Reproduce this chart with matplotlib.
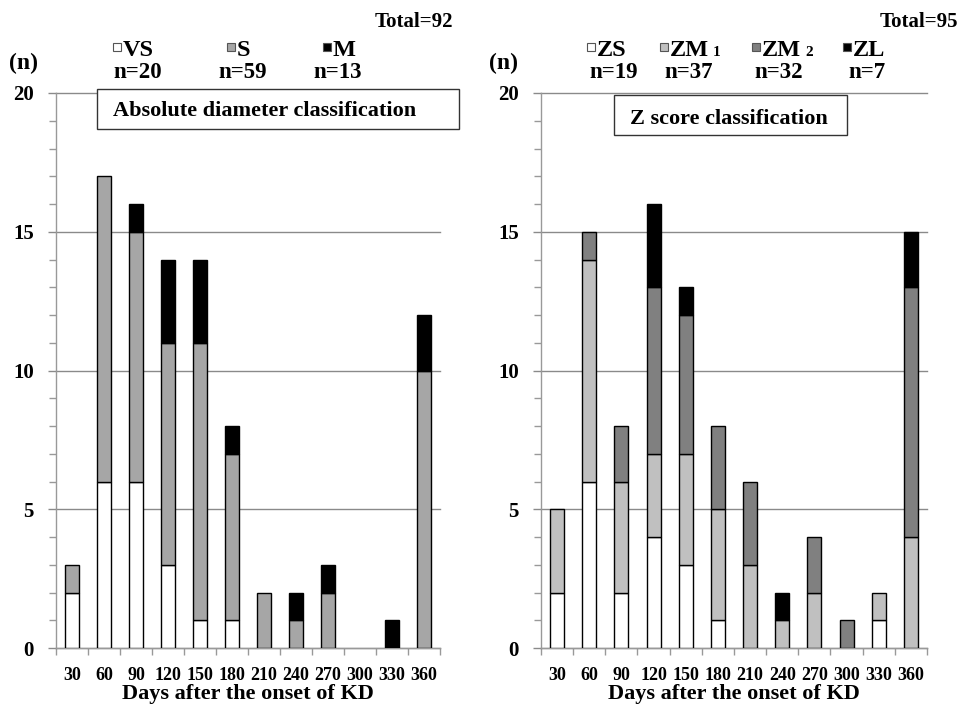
"""Stacked bar charts -- coronary diameter classes by days after onset of KD."""
import matplotlib

matplotlib.use("Agg")
import matplotlib.pyplot as plt  # noqa: E402
import numpy as np  # noqa: E402
from matplotlib.patches import Rectangle  # noqa: E402

days = ["30", "60", "90", "120", "150", "180", "210", "240", "270", "300", "330", "360"]

# Absolute diameter classification
vs_vals = [2, 6, 6, 3, 1, 1, 0, 0, 0, 0, 0, 0]
s_vals = [1, 11, 9, 8, 10, 6, 2, 1, 2, 0, 0, 10]
m_vals = [0, 0, 1, 3, 3, 1, 0, 1, 1, 0, 1, 2]
abs_names = ["VS", "S", "M"]
abs_counts = ["n=20", "n=59", "n=13"]

# Z score classification
zs_vals = [2, 6, 2, 4, 3, 1, 0, 0, 0, 0, 1, 0]
zm1_vals = [3, 8, 4, 3, 4, 4, 3, 1, 2, 0, 1, 4]
zm2_vals = [0, 1, 2, 6, 5, 3, 3, 0, 2, 1, 0, 9]
zl_vals = [0, 0, 0, 3, 1, 0, 0, 1, 0, 0, 0, 2]
z_names = ["ZS", "ZM", "ZM", "ZL"]
z_subs = ["", "1", "2", ""]
z_counts = ["n=19", "n=37", "n=32", "n=7"]

plt.rcParams["font.family"] = ["Liberation Serif", "DejaVu Serif"]
plt.rcParams["font.weight"] = "bold"

W, H = 962, 707
fig = plt.figure(figsize=(W / 100, H / 100), dpi=100)


def fx(x):
    return x / W


def fy(y):
    return 1 - y / H


def draw_panel(ax, series, colors):
    x = np.arange(len(days))
    bottom = np.zeros(len(days))
    for vals, c in zip(series, colors):
        vals = np.array(vals, dtype=float)
        keep = vals > 0
        ax.bar(x[keep], vals[keep], width=0.44, bottom=bottom[keep], color=c,
               edgecolor="black", linewidth=1.0, zorder=3)
        bottom += vals

    ax.set_xlim(-0.5, len(days) - 0.5)
    ax.set_ylim(0, 20)
    ax.set_xticks(x)
    ax.set_xticklabels(days, fontsize=13, fontweight="bold")
    ax.set_xticks(np.arange(-0.5, len(days)), minor=True)
    ax.tick_params(axis="x", which="major", length=0, pad=14)
    ax.tick_params(axis="x", which="minor", length=5, color="#999999", width=1)
    ax.set_yticks([0, 5, 10, 15, 20])
    ax.set_yticklabels(["0", "5", "10", "15", "20"], fontsize=15, fontweight="bold")
    ax.set_yticks(np.arange(0, 21, 1), minor=True)
    ax.tick_params(axis="y", which="major", length=6, color="#8a8a8a", width=1, pad=10)
    ax.tick_params(axis="y", which="minor", length=5, color="#999999", width=1)
    ax.yaxis.grid(True, color="#8a8a8a", linewidth=1.0)
    for gl in ax.get_ygridlines():
        gl.set_clip_on(False)
    ax.set_axisbelow(True)
    for side in ("top", "right"):
        ax.spines[side].set_visible(False)
    for side in ("left", "bottom"):
        ax.spines[side].set_color("#999999")
        ax.spines[side].set_linewidth(1.0)
    ax.set_xlabel("Days after the onset of KD", fontsize=16, fontweight="bold", labelpad=0)


def legend_item(sx, name, sub, color):
    fig.add_artist(Rectangle((fx(sx), fy(51)), 8 / W, 8 / H, transform=fig.transFigure,
                             facecolor=color, edgecolor="#555555", linewidth=0.8))
    t = fig.text(fx(sx + 10), fy(51), name, ha="left", va="center", fontsize=17.5, fontweight="bold")
    if sub:
        fig.canvas.draw()
        bb = t.get_window_extent()
        fig.text((bb.x1 + 4) / W, (bb.y0 + 3) / H, sub, ha="left", va="bottom",
                 fontsize=11, fontweight="bold")


ax1 = fig.add_axes([fx(56), fy(648), fx(440) - fx(56), fy(93) - fy(648)])
ax2 = fig.add_axes([fx(541), fy(648), fx(927) - fx(541), fy(93) - fy(648)])

abs_colors = ["white", "#a6a6a6", "black"]
z_colors = ["white", "#c0c0c0", "#808080", "black"]
draw_panel(ax1, [vs_vals, s_vals, m_vals], abs_colors)
draw_panel(ax2, [zs_vals, zm1_vals, zm2_vals, zl_vals], z_colors)

# headers
fig.text(fx(453), fy(22), "Total=92", ha="right", va="center", fontsize=15, fontweight="bold")
fig.text(fx(958), fy(22), "Total=95", ha="right", va="center", fontsize=15, fontweight="bold")
fig.text(fx(9), fy(63), "(n)", ha="left", va="center", fontsize=17, fontweight="bold")
fig.text(fx(489), fy(63), "(n)", ha="left", va="center", fontsize=17, fontweight="bold")

# legend, absolute
for sx, name, cnt, cx, c in zip([113, 227, 323], abs_names, abs_counts, [138, 243, 338], abs_colors):
    legend_item(sx, name, "", c)
    fig.text(fx(cx), fy(73), cnt, ha="center", va="center", fontsize=16.5, fontweight="bold")

# legend, z score
for sx, name, sub, cx, cnt, c in zip([587, 660, 752, 843], z_names, z_subs,
                                     [614, 689, 779, 867], z_counts, z_colors):
    legend_item(sx, name, sub, c)
    fig.text(fx(cx), fy(73), cnt, ha="center", va="center", fontsize=16.5, fontweight="bold")

# title boxes
fig.add_artist(Rectangle((fx(97), fy(129)), (459 - 97) / W, (129 - 89) / H, transform=fig.transFigure,
                         facecolor="white", edgecolor="#333333", linewidth=1.0, zorder=5))
fig.text(fx(265), fy(111), "Absolute diameter classification", ha="center", va="center",
         fontsize=16, fontweight="bold", zorder=6)
fig.add_artist(Rectangle((fx(614), fy(135)), (847 - 614) / W, (135 - 95) / H, transform=fig.transFigure,
                         facecolor="white", edgecolor="#333333", linewidth=1.0, zorder=5))
fig.text(fx(729), fy(119), "Z score classification", ha="center", va="center",
         fontsize=16, fontweight="bold", zorder=6)

fig.savefig("out.png", dpi=100)
